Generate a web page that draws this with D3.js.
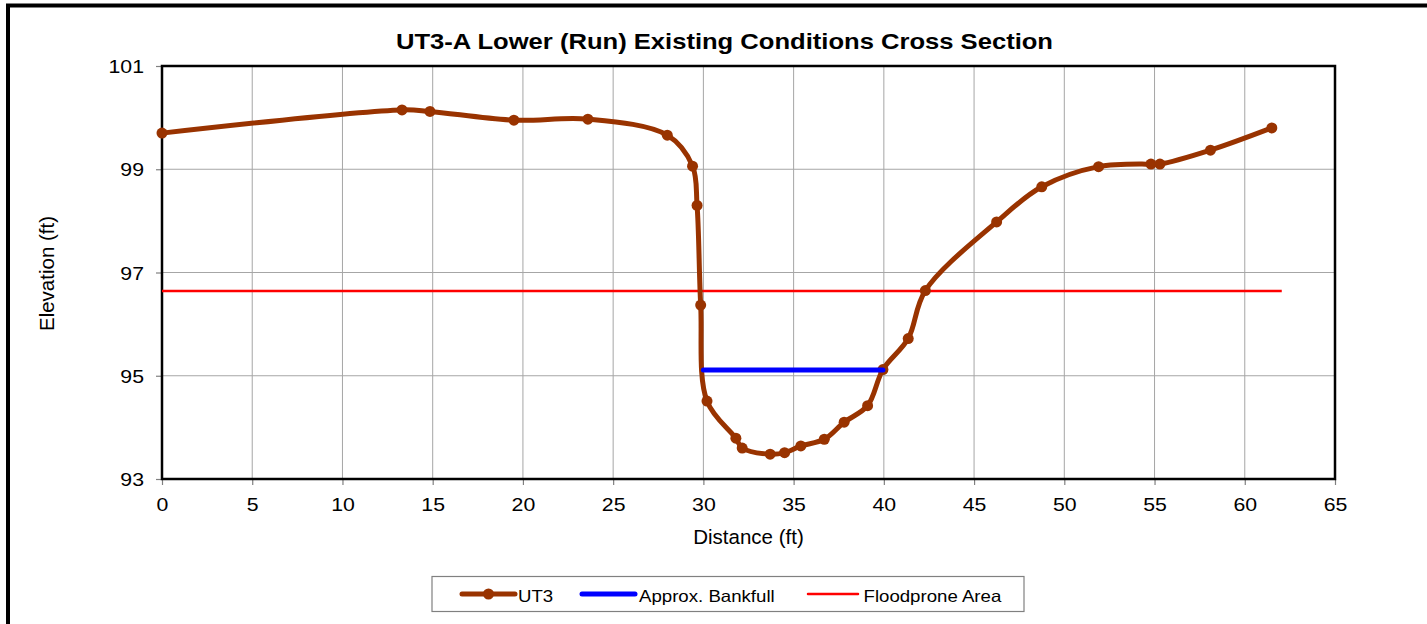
<!DOCTYPE html>
<html>
<head>
<meta charset="utf-8">
<script src="https://cdn.jsdelivr.net/npm/d3@7"></script>
<style>
  html, body { margin: 0; padding: 0; background: #fff; }
  svg { display: block; font-family: "Liberation Sans", Arial, sans-serif; }
</style>
</head>
<body>
<svg id="chart" width="1427" height="624"></svg>
<script>
// ---- data ----
const title = "UT3-A Lower (Run) Existing Conditions Cross Section";
const xLabel = "Distance (ft)";
const yLabel = "Elevation (ft)";
const xTicks = [0, 5, 10, 15, 20, 25, 30, 35, 40, 45, 50, 55, 60, 65];
const yTicks = [93, 95, 97, 99, 101];

const ut3Distance = [0, 13.3, 14.85, 19.5, 23.6, 28.0, 29.4, 29.65, 29.85, 30.2, 31.8, 32.15, 33.7, 34.5, 35.4, 36.7, 37.8, 39.1, 39.95, 41.35, 42.3, 46.25, 48.75, 51.9, 54.8, 55.3, 58.1, 61.5];
const ut3Elevation = [99.70, 100.15, 100.12, 99.95, 99.97, 99.66, 99.06, 98.30, 96.37, 94.51, 93.79, 93.60, 93.48, 93.51, 93.64, 93.77, 94.10, 94.42, 95.12, 95.72, 96.65, 97.98, 98.66, 99.05, 99.10, 99.10, 99.37, 99.80];

const bankfullDistance = [30.0, 39.95];
const bankfullElevation = [95.11, 95.11];

const floodproneDistance = [0, 62.05];
const floodproneElevation = [96.64, 96.64];

const legendLabels = ["UT3", "Approx. Bankfull", "Floodprone Area"];

// ---- layout ----
const svg = d3.select("#chart");
const plot = { left: 162, right: 1335, top: 66, bottom: 479 };
const SX = 1.15; // horizontal glyph stretch seen in the reference text

const x = d3.scaleLinear().domain([0, 65]).range([plot.left, plot.right]);
const y = d3.scaleLinear().domain([93, 101]).range([plot.bottom, plot.top]);

// outer frame (cropped)
svg.append("rect")
  .attr("x", 8).attr("y", 5.5)
  .attr("width", 1500).attr("height", 700)
  .attr("fill", "none").attr("stroke", "#000").attr("stroke-width", 4);

// title
svg.append("text")
  .attr("x", 396).attr("y", 48.5)
  .attr("font-size", 22).attr("font-weight", "bold")
  .attr("textLength", 657).attr("lengthAdjust", "spacingAndGlyphs")
  .attr("fill", "#000")
  .text(title);

// gridlines
const grid = svg.append("g");
grid.selectAll("line.vx").data(xTicks.filter(d => d > 0 && d < 65)).enter().append("line")
  .attr("x1", d => x(d)).attr("x2", d => x(d))
  .attr("y1", plot.top).attr("y2", plot.bottom)
  .attr("stroke", "#a6a6a6").attr("stroke-width", 1);
grid.selectAll("line.hy").data(yTicks.filter(d => d > 93 && d < 101)).enter().append("line")
  .attr("x1", plot.left).attr("x2", plot.right)
  .attr("y1", d => y(d)).attr("y2", d => y(d))
  .attr("stroke", "#a6a6a6").attr("stroke-width", 1);

// axes
const xAxis = d3.axisBottom(x).tickValues(xTicks).tickSize(6).tickFormat(d3.format("d"));
const yAxis = d3.axisLeft(y).tickValues(yTicks).tickSize(6).tickFormat(d3.format("d"));

const gx = svg.append("g").attr("transform", `translate(0,${plot.bottom})`).call(xAxis);
const gy = svg.append("g").attr("transform", `translate(${plot.left},0)`).call(yAxis);
[gx, gy].forEach(g => {
  g.select(".domain").remove();
  g.selectAll(".tick line").attr("stroke", "#808080").attr("stroke-width", 1.2);
  g.selectAll(".tick text").attr("font-size", 18.5).attr("fill", "#000")
    .attr("font-family", "Liberation Sans, Arial, sans-serif")
    .attr("transform", `scale(${SX},1)`);
});
gx.selectAll(".tick text").attr("y", 19).attr("dy", "0.71em");
gy.selectAll(".tick text").attr("x", -18 / SX).attr("dy", "0.36em");

// plot frame
svg.append("rect")
  .attr("x", plot.left).attr("y", plot.top)
  .attr("width", plot.right - plot.left).attr("height", plot.bottom - plot.top)
  .attr("fill", "none").attr("stroke", "#000").attr("stroke-width", 2.5);

// axis titles
svg.append("text")
  .attr("x", x(32.5)).attr("y", 543.5)
  .attr("text-anchor", "middle").attr("font-size", 20.5).attr("fill", "#000")
  .text(xLabel);
svg.append("text")
  .attr("transform", `translate(53.5,${(plot.top + plot.bottom) / 2 + 1}) rotate(-90)`)
  .attr("text-anchor", "middle").attr("font-size", 20.5).attr("fill", "#000")
  .text(yLabel);

// series
const flood = d3.zip(floodproneDistance, floodproneElevation);
svg.append("path").datum(flood)
  .attr("d", d3.line().x(d => x(d[0])).y(d => y(d[1])))
  .attr("fill", "none")
  .attr("stroke", "#ff0000").attr("stroke-width", 2.5);

const ut3 = d3.zip(ut3Distance, ut3Elevation);
svg.append("path").datum(ut3)
  .attr("d", d3.line().x(d => x(d[0])).y(d => y(d[1])).curve(d3.curveCatmullRom.alpha(0.5)))
  .attr("fill", "none").attr("stroke", "#993300").attr("stroke-width", 5)
  .attr("stroke-linejoin", "round");
svg.append("g").selectAll("circle").data(ut3).enter().append("circle")
  .attr("cx", d => x(d[0])).attr("cy", d => y(d[1]))
  .attr("r", 5.5).attr("fill", "#993300");

const bank = d3.zip(bankfullDistance, bankfullElevation);
svg.append("path").datum(bank)
  .attr("d", d3.line().x(d => x(d[0])).y(d => y(d[1])))
  .attr("fill", "none").attr("stroke", "#0000ff").attr("stroke-width", 5)
  .attr("stroke-linecap", "round");

// legend
const lg = svg.append("g");
lg.append("rect")
  .attr("x", 432).attr("y", 576.5).attr("width", 592).attr("height", 35)
  .attr("fill", "#fff").attr("stroke", "#808080").attr("stroke-width", 1.2);
const legendItems = [
  { x1: 462, x2: 515, tx: 518, color: "#993300", w: 5, marker: true },
  { x1: 582, x2: 635, tx: 639, color: "#0000ff", w: 5, marker: false },
  { x1: 808, x2: 858, tx: 863.5, color: "#ff0000", w: 2.5, marker: false }
];
legendItems.forEach((it, i) => {
  lg.append("line")
    .attr("x1", it.x1).attr("x2", it.x2).attr("y1", 594).attr("y2", 594)
    .attr("stroke", it.color).attr("stroke-width", it.w).attr("stroke-linecap", "round");
  if (it.marker) {
    lg.append("circle").attr("cx", (it.x1 + it.x2) / 2).attr("cy", 594)
      .attr("r", 5.5).attr("fill", it.color);
  }
  lg.append("text")
    .attr("transform", `translate(${it.tx},601.5) scale(1.13,1)`)
    .attr("font-size", 16.5).attr("fill", "#000")
    .text(legendLabels[i]);
});
</script>
</body>
</html>
